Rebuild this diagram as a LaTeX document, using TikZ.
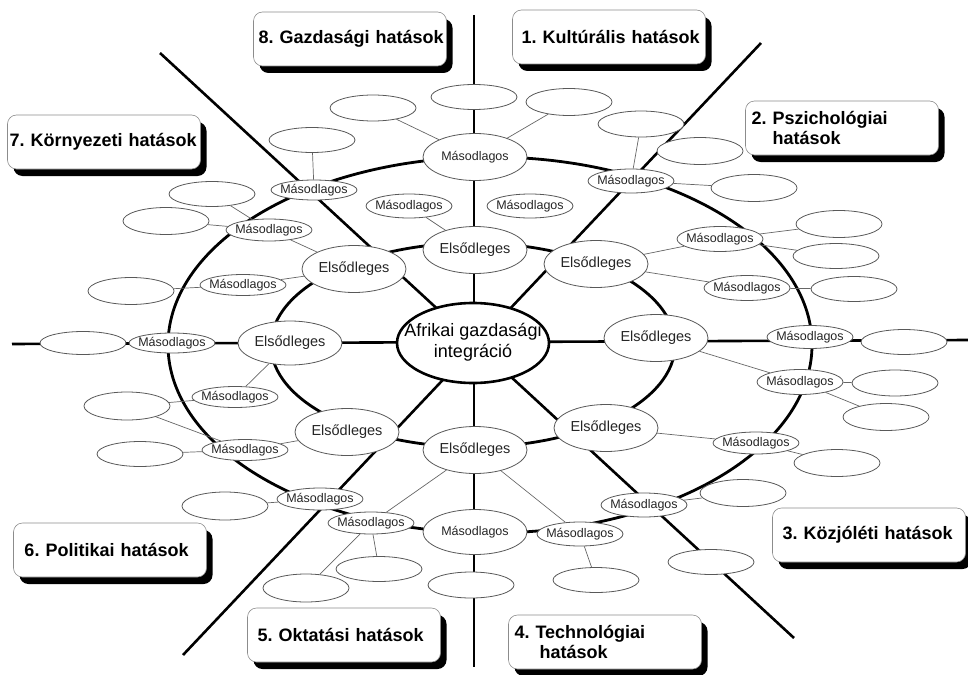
\documentclass[tikz,border=0pt]{standalone}
\usepackage{fontspec}
\setmainfont{Liberation Sans}
\usetikzlibrary{shapes.geometric,shadows}
\pgfdeclarelayer{back}
\pgfsetlayers{back,main}
% zero-width text so that an ellipse keeps its given size
\newcommand{\zw}[1]{\makebox[0pt]{#1}}

\begin{document}
\frenchspacing
\begin{tikzpicture}[x=1pt,y=-1pt,
  bubble/.style={ellipse, draw=black!65, line width=0.8pt, fill=white, inner sep=0pt, text=black!85},
  blank/.style={bubble, minimum width=86pt, minimum height=26pt},
  sec/.style={bubble, minimum width=86pt, minimum height=22pt, font=\fontsize{12.5}{14}\selectfont},
  bigsec/.style={sec, minimum width=104pt, minimum height=47pt},
  prim/.style={bubble, minimum width=104pt, minimum height=47pt, font=\fontsize{14.5}{17}\selectfont},
  hub/.style={ellipse, draw=black, line width=2.6pt, fill=white, inner sep=0pt,
    minimum width=152pt, minimum height=80pt, font=\fontsize{18}{21}\selectfont},
  heading/.style={draw=black!45, line width=0.6pt, fill=white, rounded corners=9pt,
    minimum width=193pt, minimum height=54pt, text width=181pt, inner xsep=6pt,
    align=left, font=\bfseries\fontsize{18}{20}\selectfont,
    drop shadow={shadow xshift=6pt, shadow yshift=-7pt, fill=black, opacity=1}},
  axis/.style={line width=2.6pt, black},
  ring/.style={line width=2.8pt, black},
  twig/.style={line width=0.7pt, black!60}]

\useasboundingbox (0,0) rectangle (968,674);

% ends of the dividing lines and ring centres
\coordinate (vt) at (474,15);
\coordinate (vb) at (474,667);
\coordinate (hl) at (12,344);
\coordinate (hr) at (968,340);
\coordinate (d1a) at (160,53);
\coordinate (d1b) at (794,638);
\coordinate (d2a) at (761,43);
\coordinate (d2b) at (183,655);
\coordinate (ic) at (473,345);
\coordinate (oc) at (490,345);

% headings
\node[heading] (h1) at (609,37) {\mbox{\hspace*{3pt}1. Kultúrális hatások}};
\node[heading] (h2) at (842,128) {\mbox{2. Pszichológiai}\\\mbox{\hspace*{21pt}hatások}};
\node[heading] (h3) at (869,535) {\mbox{\hspace*{4pt}3. Közjóléti hatások}};
\node[heading] (h4) at (605,642) {\mbox{4. Technológiai}\\\mbox{\hspace*{25pt}hatások}};
\node[heading] (h5) at (344,635) {\mbox{\hspace*{4pt}5. Oktatási hatások}};
\node[heading] (h6) at (110,550) {\mbox{\hspace*{5pt}6. Politikai hatások}};
\node[heading] (h7) at (104,142) {\mbox{\hspace*{-4pt}7. Környezeti hatások}};
\node[heading] (h8) at (350,39) {\mbox{\hspace*{-1pt}8. Gazdasági hatások}};

% centre
\node[hub] (c) at (473,343) {\zw{\begin{tabular}{@{}c@{}}Afrikai gazdasági\\integráció\end{tabular}}};

% primary effects
\node[prim] (pN)  at (475,250) {\zw{Elsődleges}};
\node[prim] (pNE) at (596,264) {\zw{Elsődleges}};
\node[prim] (pE)  at (656,338) {\zw{Elsődleges}};
\node[prim] (pSE) at (606,428) {\zw{Elsődleges}};
\node[prim] (pS)  at (475,450) {\zw{Elsődleges}};
\node[prim] (pSW) at (347,432) {\zw{Elsődleges}};
\node[prim, minimum height=44pt] (pW) at (290,343) {\zw{Elsődleges}};
\node[prim] (pNW) at (354,269) {\zw{Elsődleges}};

% secondary effects
\node[bigsec] (sN)   at (475,157) {\zw{Másodlagos}};
\node[sec, minimum height=24pt] (sNa)  at (409,206) {\zw{Másodlagos}};
\node[sec, minimum height=24pt] (sNb)  at (530,206) {\zw{Másodlagos}};
\node[sec, minimum height=24pt] (sNE)  at (631,181) {\zw{Másodlagos}};
\node[sec, minimum height=25pt] (sENE) at (720,239) {\zw{Másodlagos}};
\node[sec, minimum height=25pt] (sENE2) at (747,288) {\zw{Másodlagos}};
\node[sec, minimum height=23pt] (sE)   at (810,337) {\zw{Másodlagos}};
\node[sec, minimum height=25pt] (sE2)  at (800,382) {\zw{Másodlagos}};
\node[sec] (sSE)  at (756,443) {\zw{Másodlagos}};
\node[sec, minimum height=24pt] (sSSE) at (644,505) {\zw{Másodlagos}};
\node[sec, minimum height=24pt] (sSSE2) at (580,534) {\zw{Másodlagos}};
\node[bigsec, minimum height=45pt] (sS) at (475,532) {\zw{Másodlagos}};
\node[sec] (sSSW) at (371,523) {\zw{Másodlagos}};
\node[sec] (sSW2) at (320,499) {\zw{Másodlagos}};
\node[sec, minimum height=21pt] (sSW)  at (245,450) {\zw{Másodlagos}};
\node[sec, minimum height=21pt] (sWSW) at (235,397) {\zw{Másodlagos}};
\node[sec, minimum height=20pt] (sW)   at (172,343) {\zw{Másodlagos}};
\node[sec, minimum height=21pt] (sWNW) at (243,285) {\zw{Másodlagos}};
\node[sec] (sNW2) at (269,230) {\zw{Másodlagos}};
\node[sec, minimum height=20pt] (sNW)  at (314,190) {\zw{Másodlagos}};

% empty bubbles
\node[blank, minimum height=25pt] (e1)  at (474,97)  {};
\node[blank] (e2)  at (373,108) {};
\node[blank, minimum height=27pt] (e3)  at (569,102) {};
\node[blank] (e4)  at (641,124) {};
\node[blank, minimum height=27pt] (e5)  at (700,151) {};
\node[blank, minimum height=27pt] (e6)  at (754,188) {};
\node[blank, minimum height=27pt] (e7)  at (839,224) {};
\node[blank, minimum height=25pt] (e8)  at (836,256) {};
\node[blank, minimum height=25pt] (e9)  at (854,289) {};
\node[blank, minimum height=25pt] (e10) at (904,342) {};
\node[blank] (e11) at (895,383) {};
\node[blank, minimum height=27pt] (e12) at (886,417) {};
\node[blank, minimum height=27pt] (e13) at (837,463) {};
\node[blank, minimum height=27pt] (e14) at (743,493) {};
\node[blank, minimum height=25pt] (e15) at (711,562) {};
\node[blank, minimum height=25pt] (e16) at (596,580) {};
\node[blank] (e17) at (471,585) {};
\node[blank, minimum height=25pt] (e18) at (379,569) {};
\node[blank, minimum height=28pt] (e19) at (306,588) {};
\node[blank, minimum height=28pt] (e20) at (225,506) {};
\node[blank, minimum height=25pt] (e21) at (140,454) {};
\node[blank, minimum height=28pt] (e22) at (127,406) {};
\node[blank, minimum height=23pt] (e23) at (83,343)  {};
\node[blank, minimum height=27pt] (e24) at (131,291) {};
\node[blank, minimum height=27pt] (e25) at (166,221) {};
\node[blank, minimum height=25pt] (e26) at (212,194) {};
\node[blank, minimum height=25pt] (e27) at (312,140) {};

\begin{pgfonlayer}{back}
  % dividing lines
  \draw[axis] (vt) -- (vb);
  \draw[axis] (hl) -- (hr);
  \draw[axis] (d1a) -- (d1b);
  \draw[axis] (d2a) -- (d2b);
  % rings of primary and secondary effects
  \draw[ring] (ic) ellipse [x radius=202pt, y radius=102pt];
  \draw[ring] (oc) ellipse [x radius=322pt, y radius=188pt];
  % thin links
  \draw[twig] (sN) -- (e2);
  \draw[twig] (sN) -- (e3);
  \draw[twig] (sNW) -- (e27);
  \draw[twig] (sNW2) -- (e26);
  \draw[twig] (sNW2) -- (e25);
  \draw[twig] (sNW2) -- (pNW);
  \draw[twig] (sWNW) -- (e24);
  \draw[twig] (sWNW) -- (pNW);
  \draw[twig] (pW) -- (sWSW);
  \draw[twig] (sWSW) -- (e22);
  \draw[twig] (e22) -- (sSW);
  \draw[twig] (sSW) -- (e21);
  \draw[twig] (sSW) -- (pSW);
  \draw[twig] (sSW2) -- (e20);
  \draw[twig] (sSSW) -- (e18);
  \draw[twig] (sSSW) -- (e19);
  \draw[twig] (sSSW) -- (pS);
  \draw[twig] (sSSE2) -- (e16);
  \draw[twig] (sSSE2) -- (pS);
  \draw[twig] (sSSE) -- (e14);
  \draw[twig] (sSE) -- (e13);
  \draw[twig] (sSE) -- (pSE);
  \draw[twig] (sE2) -- (e11);
  \draw[twig] (sE2) -- (e12);
  \draw[twig] (sE2) -- (pE);
  \draw[twig] (sENE2) -- (e9);
  \draw[twig] (sENE2) -- (pNE);
  \draw[twig] (sENE) -- (e7);
  \draw[twig] (sENE) -- (e8);
  \draw[twig] (sENE) -- (pNE);
  \draw[twig] (sNE) -- (e4);
  \draw[twig] (sNE) -- (e6);
  \draw[twig] (sNa) -- (pN);
\end{pgfonlayer}
\end{tikzpicture}
\end{document}
